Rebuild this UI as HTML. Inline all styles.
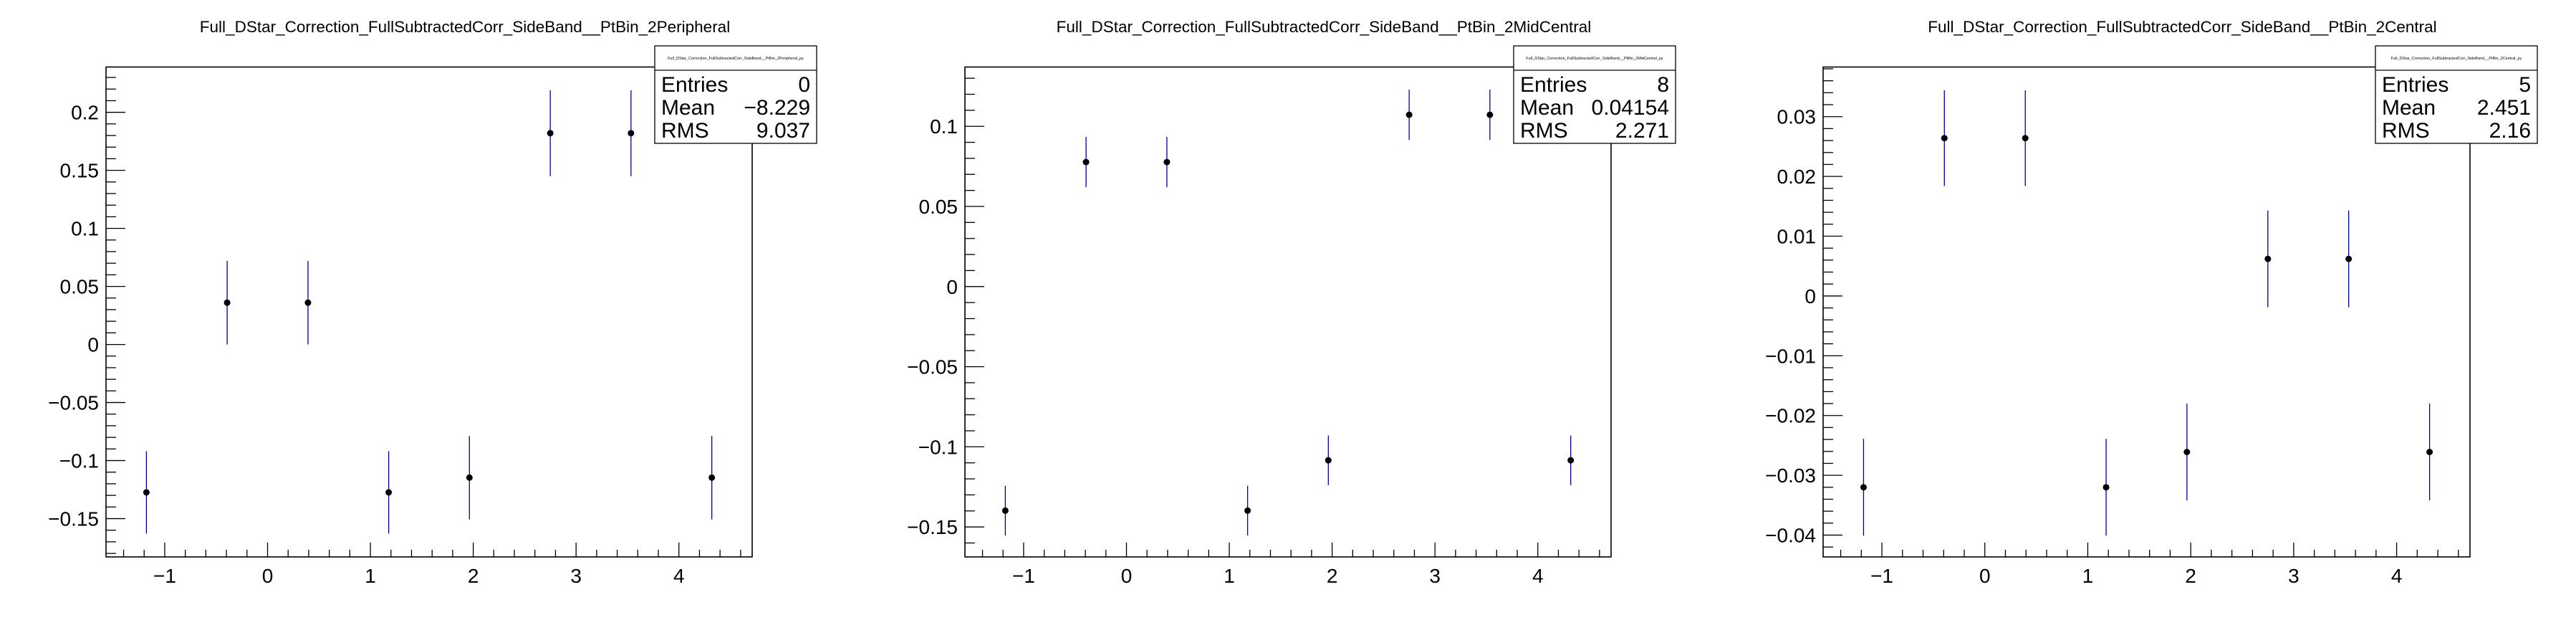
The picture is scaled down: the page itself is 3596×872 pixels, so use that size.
<!DOCTYPE html>
<html><head><meta charset="utf-8"><style>
html,body{margin:0;padding:0;background:#fff;}
svg{display:block;font-family:"Liberation Sans",sans-serif;}
</style></head><body>
<svg id="root" width="3596" height="872" viewBox="0 0 3596 872" xmlns="http://www.w3.org/2000/svg"></svg>
<script>
const xCenters = [-1.178, -0.393, 0.393, 1.178, 1.963, 2.749, 3.534, 4.320];
const titles = ["Full_DStar_Correction_FullSubtractedCorr_SideBand__PtBin_2Peripheral","Full_DStar_Correction_FullSubtractedCorr_SideBand__PtBin_2MidCentral","Full_DStar_Correction_FullSubtractedCorr_SideBand__PtBin_2Central"];
const statTitles = ["Full_DStar_Correction_FullSubtractedCorr_SideBand__PtBin_2Peripheral_py","Full_DStar_Correction_FullSubtractedCorr_SideBand__PtBin_2MidCentral_py","Full_DStar_Correction_FullSubtractedCorr_SideBand__PtBin_2Central_py"];
const entries = ["0","8","5"];
const means = ["\u22128.229","0.04154","2.451"];
const rmsVals = ["9.037","2.271","2.16"];
const y1 = [-0.1274, 0.036, 0.036, -0.1274, -0.1147, 0.182, 0.182, -0.1147];
const e1 = [0.0355, 0.036, 0.036, 0.0355, 0.036, 0.037, 0.037, 0.036];
const y2 = [-0.1398, 0.0777, 0.0777, -0.1398, -0.1084, 0.1072, 0.1072, -0.1084];
const e2 = [0.0155, 0.0157, 0.0157, 0.0155, 0.0155, 0.0157, 0.0157, 0.0155];
const y3 = [-0.0320, 0.0264, 0.0264, -0.0320, -0.0261, 0.0062, 0.0062, -0.0261];
const e3 = [0.0081, 0.0080, 0.0080, 0.0081, 0.0081, 0.0081, 0.0081, 0.0081];
const yRanges = [[-0.183, 0.239], [-0.1687, 0.137], [-0.04365, 0.0383]];
const yMajor = [0.05, 0.05, 0.01];
const yMinor = [0.01, 0.01, 0.002];
const yDecimals = [2, 2, 2];
const xRange = [-1.5708, 4.7124];
const xTickLabels = [-1, 0, 1, 2, 3, 4];

const NS = "http://www.w3.org/2000/svg";
const root = document.getElementById('root');
const frames = [[148,1050],[1347,2249],[2545,3448]];
const boxes = [[914,1140],[2113,2339],[3316,3542]];
const TOP = 93.5, BOT = 777;
function mk(tag, attrs, parent){const e=document.createElementNS(NS,tag);for(const k in attrs)e.setAttribute(k,attrs[k]);(parent||root).appendChild(e);return e;}
function fmt(v,d){let s=Math.abs(v)<1e-9?"0":(+v.toFixed(d)).toString();return s.replace("-","\u2212");}
const ys=[y1,y2,y3], es=[e1,e2,e3];
for(let p=0;p<3;p++){
  const [L,R]=frames[p]; const [ymin,ymax]=yRanges[p];
  const sx=v=>L+(v-xRange[0])/(xRange[1]-xRange[0])*(R-L);
  const sy=v=>BOT-(v-ymin)/(ymax-ymin)*(BOT-TOP);
  const g=mk('g',{});
  
  
  const t=mk('text',{x:(L+R)/2+50,y:45,'font-size':22.5,'text-anchor':'middle',fill:'#000'},g);
  
  
  t.textContent=titles[p];
  const fr=mk('rect',{x:L,y:TOP,width:R-L,height:BOT-TOP,fill:'none',stroke:'#000','stroke-width':1.6},g);
  
  
  for(let k=Math.ceil(ymin/yMinor[p]);k*yMinor[p]<=ymax;k++){
    const v=k*yMinor[p]; const y=sy(v);
    const major=Math.abs(Math.round(v/yMajor[p])*yMajor[p]-v)<1e-9;
    const tk=mk('line',{x1:L,x2:L+(major?27:14),y1:y,y2:y,stroke:'#000','stroke-width':1.3},g);
    
    
    if(major){
      const lb=mk('text',{x:L-10,y:y+10,'font-size':28,'text-anchor':'end',fill:'#000'},g);
      
      
      lb.textContent=fmt(v,yDecimals[p]);
    }
  }
  for(let k=Math.ceil(xRange[0]/0.2);k*0.2<=xRange[1];k++){
    const v=k*0.2; const x=sx(v); const major=k%5===0;
    const tk=mk('line',{x1:x,x2:x,y1:BOT,y2:BOT-(major?20:10),stroke:'#000','stroke-width':1.3},g);
    
    
  }
  xTickLabels.forEach(v=>{
    const lb=mk('text',{x:sx(v),y:BOT+36,'font-size':28,'text-anchor':'middle',fill:'#000'},g);
    
    
    lb.textContent=fmt(v,0);
  });
  xCenters.forEach((xc,i)=>{
    const x=sx(xc);
    const eb=mk('line',{x1:x,x2:x,y1:sy(ys[p][i]+es[p][i]),y2:sy(ys[p][i]-es[p][i]),stroke:'#00009c','stroke-width':1.3},g);
    
    
    const c=mk('circle',{cx:x,cy:sy(ys[p][i]),r:4.5,fill:'#000'},g);
    
    
  });
  const [bL,bR]=boxes[p];
  const sb=mk('g',{},g);
  
  
  mk('rect',{x:bL,y:64,width:bR-bL,height:136,fill:'#fff',stroke:'#000','stroke-width':1.3},sb);
  mk('line',{x1:bL,x2:bR,y1:98,y2:98,stroke:'#000','stroke-width':1.3},sb);
  const st=mk('text',{x:(bL+bR)/2,y:83,'font-size':5.5,'text-anchor':'middle',fill:'#000'},sb);
  
  
  st.textContent=statTitles[p];
  const rows=[["Entries",entries[p]],["Mean",means[p]],["RMS",rmsVals[p]]];
  rows.forEach((r,i)=>{
    const by=128+i*32;
    const a=mk('text',{x:bL+9,y:by,'font-size':30,fill:'#000'},sb);
    
    
    a.textContent=r[0];
    const b=mk('text',{x:bR-9,y:by,'font-size':30,'text-anchor':'end',fill:'#000'},sb);
    
    
    b.textContent=r[1];
  });
}
</script>
</body></html>
